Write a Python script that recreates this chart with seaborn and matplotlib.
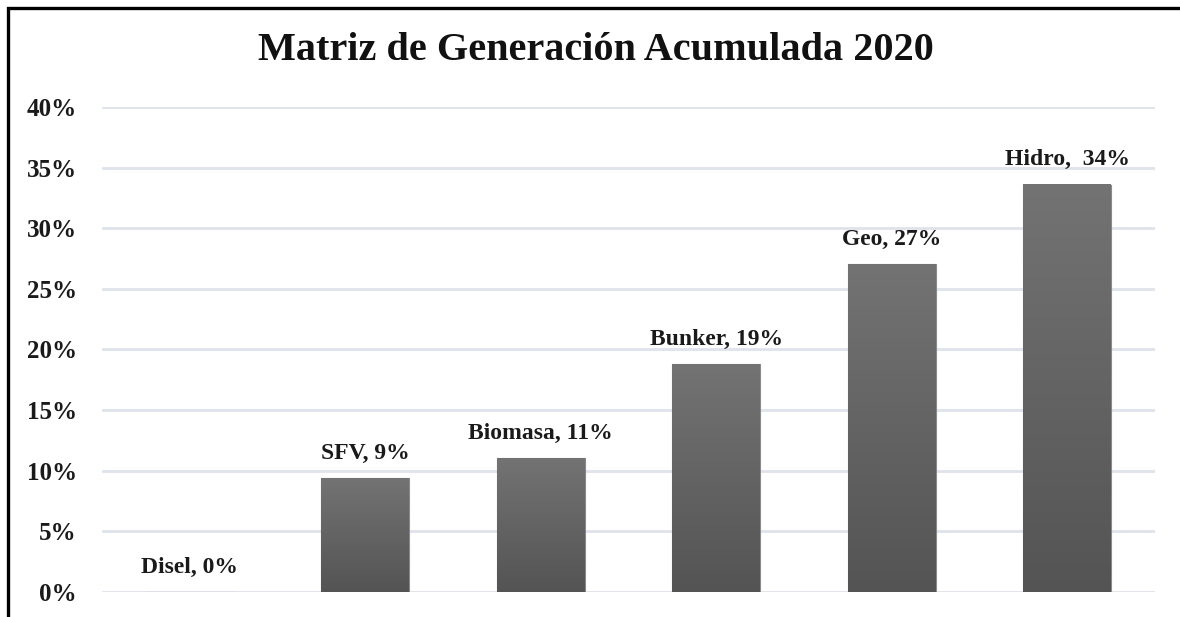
import seaborn as sns
import matplotlib.pyplot as plt
import matplotlib.patches as mpatches
from matplotlib.colors import LinearSegmentedColormap
import numpy as np

# data
fuentes = ['Disel', 'SFV', 'Biomasa', 'Bunker', 'Geo', 'Hidro']
valores = [0.0, 0.094, 0.1105, 0.188, 0.2705, 0.336]
etiquetas = ['Disel, 0%', 'SFV, 9%', 'Biomasa, 11%', 'Bunker, 19%', 'Geo, 27%', 'Hidro,  34%']
yticks = [0, 0.05, 0.10, 0.15, 0.20, 0.25, 0.30, 0.35, 0.40]

sns.set_theme(style='white')
plt.rcParams['font.family'] = ['Liberation Serif', 'DejaVu Serif']
plt.rcParams['font.weight'] = 'bold'

fig = plt.figure(figsize=(11.8, 6.17), dpi=100)
ax = fig.add_axes([0.0864, 0.0405, 0.8924, 0.7861])

sns.barplot(x=fuentes, y=valores, ax=ax, width=0.5, color='#626262',
            edgecolor='#8a8a8a', linewidth=0.8)

# vertical gray gradient inside each bar
cmap = LinearSegmentedColormap.from_list('gris', ['#545454', '#737373'])
grad = np.linspace(0, 1, 256).reshape(-1, 1)
for p in ax.patches:
    x0, w, h = p.get_x(), p.get_width(), p.get_height()
    if h <= 0:
        continue
    ax.imshow(grad, extent=[x0, x0 + w, 0, h], origin='lower', aspect='auto',
              cmap=cmap, zorder=p.get_zorder() + 0.1)

for i, (v, lab) in enumerate(zip(valores, etiquetas)):
    ax.annotate(lab, (i, v), xytext=(0, 18), textcoords='offset points',
                ha='center', va='center', fontsize=17, fontweight='bold',
                color='#1a1a1a')

ax.set_xlim(-0.5, len(fuentes) - 0.5)
ax.set_ylim(0, 0.40)
ax.set_yticks(yticks)
ax.set_yticklabels([f'{int(round(t * 100))}%' for t in yticks],
                   fontsize=18, fontweight='bold', color='#1a1a1a')
ax.set_xticks([])
ax.set_xlabel('')
ax.tick_params(axis='y', length=0, pad=18)
ax.yaxis.grid(True, color='#dfe3ea', linewidth=2)
ax.set_axisbelow(True)
for s in ax.spines.values():
    s.set_visible(False)

fig.text(0.505, 0.918, 'Matriz de Generación Acumulada 2020', ha='center',
         va='center', fontsize=29, fontweight='bold', color='#111111')

# frame around the chart (cut off at right and bottom)
fig.patches.append(mpatches.Rectangle((0.0068, -0.05), 1.1, 0.037 + 1.0,
                                      transform=fig.transFigure, fill=False,
                                      edgecolor='black', linewidth=2.4))

fig.savefig('out.png', dpi=100)
